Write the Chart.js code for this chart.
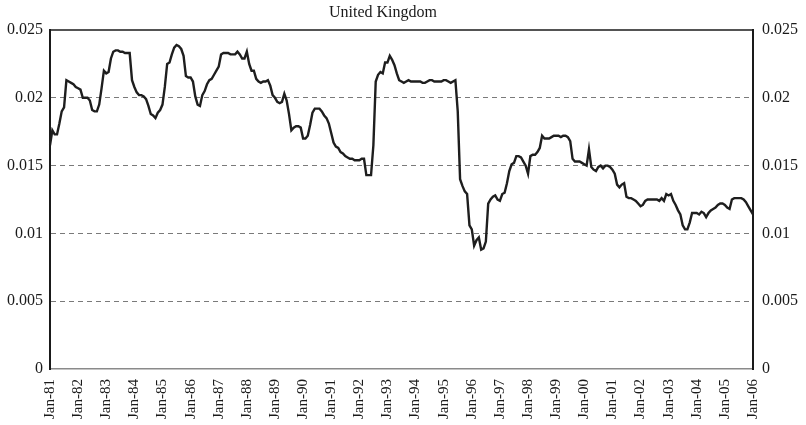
<!DOCTYPE html>
<html>
<head>
<meta charset="utf-8">
<script src="https://cdn.jsdelivr.net/npm/chart.js@4/dist/chart.umd.min.js"></script>
<style>
  html, body { margin: 0; padding: 0; background: #ffffff; }
  #wrap { width: 806px; height: 425px; }
</style>
</head>
<body>
<div id="wrap"><canvas id="c" width="806" height="425"></canvas></div>
<script>
const chartTitle = 'United Kingdom';

// Year tick labels (one per January)
const tickLabels = ['Jan-81','Jan-82','Jan-83','Jan-84','Jan-85','Jan-86','Jan-87','Jan-88','Jan-89',
  'Jan-90','Jan-91','Jan-92','Jan-93','Jan-94','Jan-95','Jan-96','Jan-97','Jan-98','Jan-99',
  'Jan-00','Jan-01','Jan-02','Jan-03','Jan-04','Jan-05','Jan-06'];

const monthNames = ['Jan','Feb','Mar','Apr','May','Jun','Jul','Aug','Sep','Oct','Nov','Dec'];

// Y-axis tick labels
const yTickLabels = ['0','0.005','0.01','0.015','0.02','0.025'];

// Monthly values, Jan-81 .. Jan-06
const values = [
  // 1981
  0.0165,0.0176,0.0173,0.0173,0.0181,0.0190,0.0193,0.0213,0.0212,0.0211,0.0210,0.0208,
  // 1982
  0.0207,0.0206,0.0200,0.0200,0.0200,0.0198,0.0191,0.0190,0.0190,0.0195,0.0207,0.0220,
  // 1983
  0.0218,0.0219,0.0229,0.0234,0.0235,0.0235,0.0234,0.0234,0.0233,0.0233,0.0233,0.0213,
  // 1984
  0.0208,0.0204,0.0202,0.0202,0.0201,0.0199,0.0194,0.0188,0.0187,0.0185,0.0189,0.0191,
  // 1985
  0.0195,0.0208,0.0225,0.0226,0.0232,0.0237,0.0239,0.0238,0.0236,0.0231,0.0216,0.0215,
  // 1986
  0.0215,0.0212,0.0201,0.0195,0.0194,0.0202,0.0205,0.0210,0.0213,0.0214,0.0217,0.0220,
  // 1987
  0.0223,0.0232,0.0233,0.0233,0.0233,0.0232,0.0232,0.0232,0.0234,0.0232,0.0229,0.0229,
  // 1988
  0.0234,0.0225,0.0220,0.0220,0.0214,0.0212,0.0211,0.0212,0.0212,0.0213,0.0209,0.0202,
  // 1989
  0.0200,0.0197,0.0196,0.0197,0.0203,0.0198,0.0188,0.0176,0.0178,0.0179,0.0179,0.0178,
  // 1990
  0.0170,0.0170,0.0172,0.0180,0.0189,0.0192,0.0192,0.0192,0.0190,0.0187,0.0185,0.0181,
  // 1991
  0.0174,0.0167,0.0164,0.0163,0.0160,0.0159,0.0157,0.0156,0.0155,0.0155,0.0154,0.0154,
  // 1992
  0.0154,0.0155,0.0155,0.0143,0.0143,0.0143,0.0165,0.0212,0.0217,0.0219,0.0218,0.0226,
  // 1993
  0.0226,0.0231,0.0228,0.0224,0.0218,0.0213,0.0212,0.0211,0.0212,0.0213,0.0212,0.0212,
  // 1994
  0.0212,0.0212,0.0212,0.0211,0.0211,0.0212,0.0213,0.0213,0.0212,0.0212,0.0212,0.0212,
  // 1995
  0.0213,0.0213,0.0212,0.0211,0.0212,0.0213,0.0190,0.0140,0.0135,0.0131,0.0129,0.0106,
  // 1996
  0.0103,0.0091,0.0095,0.0097,0.0088,0.0089,0.0094,0.0122,0.0125,0.0127,0.0128,0.0125,
  // 1997
  0.0124,0.0129,0.0130,0.0137,0.0146,0.0151,0.0152,0.0157,0.0157,0.0156,0.0153,0.0150,
  // 1998
  0.0144,0.0157,0.0158,0.0158,0.0160,0.0163,0.0172,0.0170,0.0170,0.0170,0.0171,0.0172,
  // 1999
  0.0172,0.0172,0.0171,0.0172,0.0172,0.0171,0.0168,0.0155,0.0153,0.0153,0.0153,0.0152,
  // 2000
  0.0151,0.0150,0.0162,0.0149,0.0147,0.0146,0.0149,0.0150,0.0148,0.0150,0.0150,0.0149,
  // 2001
  0.0147,0.0144,0.0136,0.0134,0.0136,0.0137,0.0127,0.0126,0.0126,0.0125,0.0124,0.0122,
  // 2002
  0.0120,0.0121,0.0124,0.0125,0.0125,0.0125,0.0125,0.0125,0.0124,0.0126,0.0124,0.0129,
  // 2003
  0.0128,0.0129,0.0124,0.0121,0.0117,0.0114,0.0106,0.0103,0.0103,0.0108,0.0115,0.0115,
  // 2004
  0.0115,0.0114,0.0116,0.0115,0.0112,0.0115,0.0117,0.0118,0.0119,0.0121,0.0122,0.0122,
  // 2005
  0.0121,0.0119,0.0118,0.0125,0.0126,0.0126,0.0126,0.0126,0.0125,0.0123,0.0120,0.0117,
  // 2006
  0.0114
];

// Monthly category labels built from the year tick labels
const categories = [];
tickLabels.forEach((t, yi) => {
  const yy = t.slice(4);
  const nMonths = (yi === tickLabels.length - 1) ? 1 : 12;
  for (let m = 0; m < nMonths; m++) categories.push(monthNames[m] + '-' + yy);
});

const FONT = "'Liberation Serif', 'DejaVu Serif', serif";

const framePlugin = {
  id: 'frame',
  afterDraw(chart) {
    const { ctx, chartArea: a } = chart;
    ctx.save();
    ctx.strokeStyle = '#1a1a1a';
    ctx.lineWidth = 1.5;
    ctx.beginPath();
    ctx.moveTo(a.left, a.top);
    ctx.lineTo(a.right, a.top);
    ctx.stroke();
    ctx.fillStyle = '#1a1a1a';
    ctx.font = '16px ' + FONT;
    ctx.textAlign = 'center';
    ctx.textBaseline = 'middle';
    ctx.fillText(chartTitle, 383, 13);
    ctx.restore();
  }
};

const yTickCallback = function (value, index) {
  return yTickLabels[index];
};

new Chart(document.getElementById('c'), {
  type: 'line',
  data: {
    labels: categories,
    datasets: [{
      data: values,
      borderColor: '#1e1e1e',
      borderWidth: 2.4,
      pointRadius: 0,
      tension: 0,
      fill: false,
      yAxisID: 'y'
    }]
  },
  options: {
    responsive: false,
    animation: false,
    events: [],
    layout: { padding: { top: 30, left: 0, right: 0, bottom: 0 } },
    plugins: {
      legend: { display: false },
      title: { display: false },
      tooltip: { enabled: false }
    },
    scales: {
      x: {
        type: 'category',
        offset: false,
        grid: { display: false },
        border: { display: true, color: '#8a8a8a', width: 1.5 },
        ticks: {
          autoSkip: false,
          minRotation: 90,
          maxRotation: 90,
          padding: 2,
          color: '#1a1a1a',
          font: { family: FONT, size: 15 },
          callback: function (value, index) {
            return index % 12 === 0 ? tickLabels[index / 12] : null;
          }
        },
        afterFit: function (scale) { scale.height = 56; }
      },
      y: {
        position: 'left',
        min: 0,
        max: 0.025,
        ticks: {
          stepSize: 0.005,
          padding: 7,
          color: '#1a1a1a',
          font: { family: FONT, size: 16 },
          callback: yTickCallback
        },
        grid: {
          drawTicks: false,
          lineWidth: 1,
          color: function (ctx) {
            const i = ctx.index;
            return (i === 0 || i === yTickLabels.length - 1) ? 'rgba(0,0,0,0)' : '#7a7a7a';
          }
        },
        border: { display: true, color: '#1a1a1a', width: 2, dash: [5, 4] },
        afterFit: function (scale) { scale.width = 50; }
      },
      y2: {
        position: 'right',
        min: 0,
        max: 0.025,
        ticks: {
          stepSize: 0.005,
          padding: 9,
          color: '#1a1a1a',
          font: { family: FONT, size: 16 },
          callback: yTickCallback
        },
        grid: { display: false, drawTicks: false },
        border: { display: true, color: '#1a1a1a', width: 2 },
        afterFit: function (scale) { scale.width = 53; }
      }
    }
  },
  plugins: [framePlugin]
});
</script>
</body>
</html>
